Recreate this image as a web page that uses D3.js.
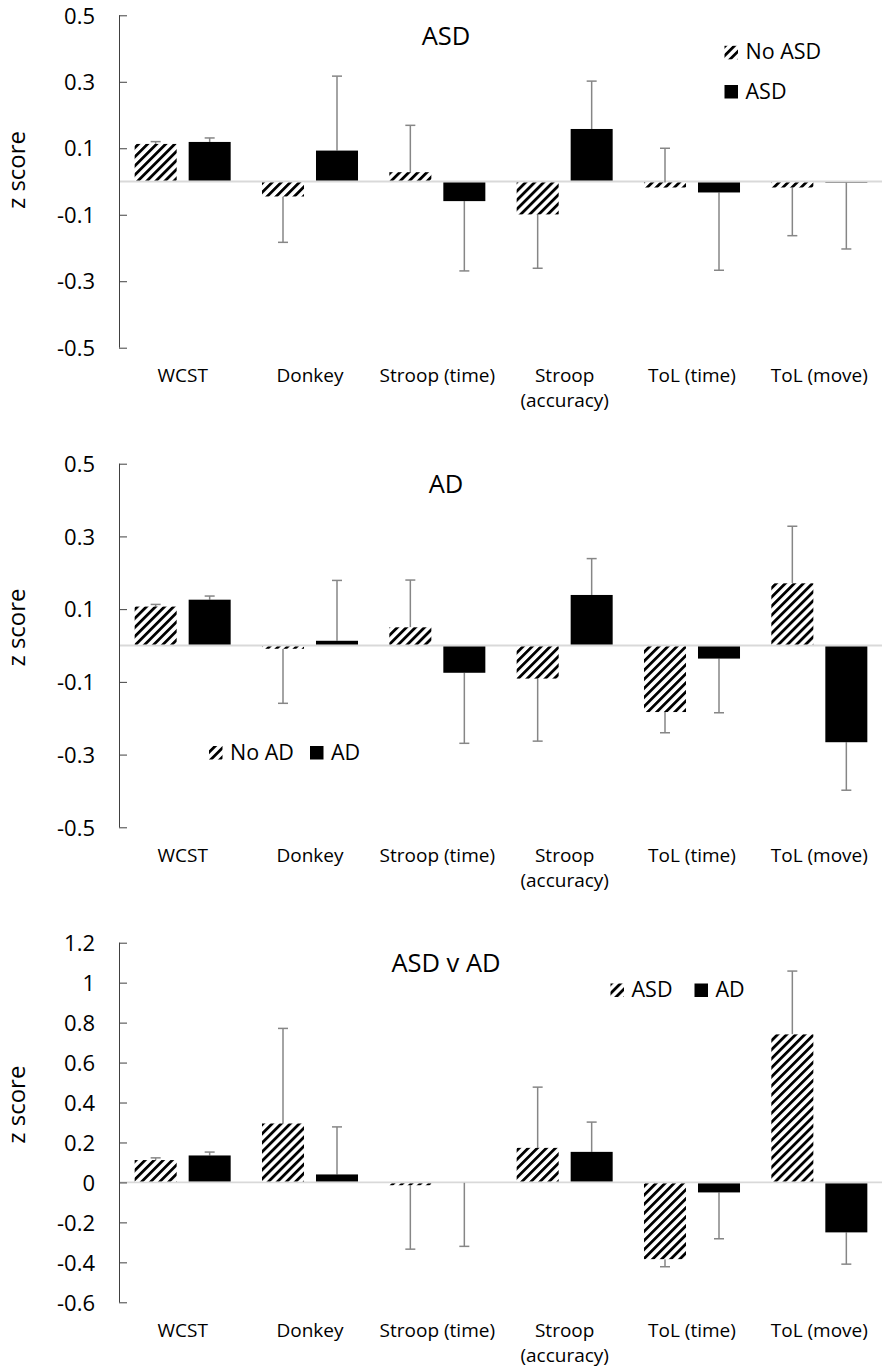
<!DOCTYPE html>
<html>
<head>
<meta charset="utf-8">
<script src="https://cdn.jsdelivr.net/npm/d3@7"></script>
<style>
  html, body { margin: 0; padding: 0; background: #fff; }
  svg { display: block; font-family: "Open Sans", "Noto Sans", sans-serif; }
</style>
</head>
<body>
<svg id="chart" width="882" height="1368"></svg>
<script>
// ---------- data ----------
const categories = ["WCST", "Donkey", "Stroop (time)", "Stroop (accuracy)", "ToL (time)", "ToL (move)"];
const categoryLines = [["WCST"], ["Donkey"], ["Stroop (time)"], ["Stroop", "(accuracy)"], ["ToL (time)"], ["ToL (move)"]];

// Panel 1: ASD
const p1Title = "ASD";
const p1SeriesNames = ["No ASD", "ASD"];
const p1NoAsdValues = [0.113, -0.045, 0.028, -0.099, -0.018, -0.018];
const p1NoAsdErrEnd = [0.120, -0.183, 0.169, -0.261, 0.100, -0.163];
const p1AsdValues   = [0.119, 0.093, -0.059, 0.158, -0.033, -0.004];
const p1AsdErrEnd   = [0.131, 0.317, -0.269, 0.302, -0.267, -0.203];
const p1Ticks = [-0.5, -0.3, -0.1, 0.1, 0.3, 0.5];
const p1TickLabels = ["-0.5", "-0.3", "-0.1", "0.1", "0.3", "0.5"];

// Panel 2: AD
const p2Title = "AD";
const p2SeriesNames = ["No AD", "AD"];
const p2NoAdValues = [0.107, -0.009, 0.050, -0.091, -0.183, 0.171];
const p2NoAdErrEnd = [0.113, -0.159, 0.180, -0.263, -0.240, 0.328];
const p2AdValues   = [0.126, 0.013, -0.075, 0.139, -0.036, -0.266];
const p2AdErrEnd   = [0.136, 0.179, -0.269, 0.239, -0.185, -0.398];
const p2Ticks = [-0.5, -0.3, -0.1, 0.1, 0.3, 0.5];
const p2TickLabels = ["-0.5", "-0.3", "-0.1", "0.1", "0.3", "0.5"];

// Panel 3: ASD v AD
const p3Title = "ASD v AD";
const p3SeriesNames = ["ASD", "AD"];
const p3AsdValues = [0.112, 0.295, -0.014, 0.173, -0.384, 0.741];
const p3AsdErrEnd = [0.123, 0.771, -0.334, 0.477, -0.422, 1.058];
const p3AdValues  = [0.135, 0.040, -0.002, 0.153, -0.050, -0.250];
const p3AdErrEnd  = [0.152, 0.278, -0.320, 0.302, -0.282, -0.409];
const p3Ticks = [-0.6, -0.4, -0.2, 0, 0.2, 0.4, 0.6, 0.8, 1, 1.2];
const p3TickLabels = ["-0.6", "-0.4", "-0.2", "0", "0.2", "0.4", "0.6", "0.8", "1", "1.2"];

const yLabel = "z score";

// ---------- drawing ----------
const svg = d3.select("#chart");
const defs = svg.append("defs");
const pat = defs.append("pattern")
  .attr("id", "hatch")
  .attr("patternUnits", "userSpaceOnUse")
  .attr("width", 6.4).attr("height", 10)
  .attr("patternTransform", "rotate(45)");
pat.append("rect").attr("width", 6.4).attr("height", 10).attr("fill", "#fff");
pat.append("rect").attr("x", 0).attr("width", 2.8).attr("height", 10).attr("fill", "#000");

const axisX = 119, plotRight = 883;
const x0 = d3.scaleBand().domain(categories).range([axisX, plotRight]).padding(0);
const x1 = d3.scaleBand().domain([0, 1]).range([0, x0.bandwidth()])
  .paddingInner(0.222).paddingOuter(0.29);

function panel(cfg) {
  const g = svg.append("g");
  const y = d3.scaleLinear().domain(cfg.domain).range([cfg.bottom, cfg.top]);

  // zero line
  g.append("line")
    .attr("x1", axisX).attr("x2", plotRight)
    .attr("y1", y(0)).attr("y2", y(0))
    .attr("stroke", "#d9d9d9").attr("stroke-width", 1.8);

  // y axis with inward ticks
  const axis = d3.axisRight(y).tickValues(cfg.ticks).tickSize(8)
    .tickFormat((d, i) => cfg.tickLabels[i]);
  const ag = g.append("g").attr("transform", `translate(${axisX},0)`).call(axis);
  ag.select(".domain").attr("stroke", "#404040").attr("stroke-width", 1)
    .attr("d", `M0.5,${y(cfg.domain[1])}V${y(cfg.domain[0])}`);
  ag.selectAll(".tick line").attr("stroke", "#404040").attr("stroke-width", 1);
  ag.selectAll(".tick text")
    .attr("x", -24).attr("dy", "0.35em")
    .attr("text-anchor", "end")
    .attr("font-size", 22).attr("fill", "#000")
    .attr("font-family", "'Open Sans', sans-serif");

  const series = [
    { vals: cfg.s0, err: cfg.e0, fill: "url(#hatch)" },
    { vals: cfg.s1, err: cfg.e1, fill: "#000" }
  ];

  series.forEach((s, si) => {
    const data = categories.map((c, i) => ({ c, v: s.vals[i], e: s.err[i] }));
    const cx = d => x0(d.c) + x1(si) + x1.bandwidth() / 2;
    // error bars
    const eg = g.append("g").attr("stroke", "#868686").attr("stroke-width", 1.5);
    eg.selectAll("line.stem").data(data).join("line").attr("class", "stem")
      .attr("x1", cx).attr("x2", cx)
      .attr("y1", d => y(d.v)).attr("y2", d => y(d.e));
    eg.selectAll("line.cap").data(data).join("line").attr("class", "cap")
      .attr("x1", d => cx(d) - 5).attr("x2", d => cx(d) + 5)
      .attr("y1", d => y(d.e)).attr("y2", d => y(d.e));
    // bars
    g.append("g").selectAll("rect").data(data).join("rect")
      .attr("x", d => x0(d.c) + x1(si))
      .attr("width", x1.bandwidth())
      .attr("y", d => d.v >= 0 ? y(d.v) : y(0) + 1)
      .attr("height", d => Math.max(0, d.v >= 0 ? y(0) - 1 - y(d.v) : y(d.v) - y(0) - 1))
      .attr("fill", s.fill);
  });

  // category labels
  const lg = g.append("g").attr("font-size", 19).attr("fill", "#000").attr("text-anchor", "middle");
  categories.forEach((c, i) => {
    const t = lg.append("text")
      .attr("x", x0(c) + x0.bandwidth() / 2)
      .attr("y", cfg.bottom + 34.4);
    categoryLines[i].forEach((ln, li) => {
      t.append("tspan").attr("x", x0(c) + x0.bandwidth() / 2)
        .attr("dy", li === 0 ? 0 : 25).text(ln);
    });
  });

  // title
  g.append("text").attr("x", 446).attr("y", cfg.titleY)
    .attr("text-anchor", "middle").attr("font-size", 25.5).attr("fill", "#000")
    .text(cfg.title);

  // y label
  g.append("text")
    .attr("transform", `translate(25,${cfg.labelY}) rotate(-90)`)
    .attr("text-anchor", "middle").attr("font-size", 24).attr("fill", "#000")
    .text(yLabel);

  // legend
  const leg = g.append("g").attr("font-size", 21.5).attr("fill", "#000");
  cfg.legend.forEach((it, i) => {
    leg.append("rect").attr("x", it.x).attr("y", it.y - 13.5)
      .attr("width", 13.5).attr("height", 13.5)
      .attr("fill", i === 0 ? "url(#hatch)" : "#000");
    leg.append("text").attr("x", it.x + 21).attr("y", it.y).text(cfg.names[i]);
  });
}

panel({
  domain: [-0.5, 0.5], top: 15.3, bottom: 347.7,
  ticks: p1Ticks, tickLabels: p1TickLabels,
  s0: p1NoAsdValues, e0: p1NoAsdErrEnd, s1: p1AsdValues, e1: p1AsdErrEnd,
  title: p1Title, titleY: 45, labelY: 170, names: p1SeriesNames,
  legend: [{ x: 724.5, y: 59.3 }, { x: 724.5, y: 98.5 }]
});
panel({
  domain: [-0.5, 0.5], top: 463.7, bottom: 827.3,
  ticks: p2Ticks, tickLabels: p2TickLabels,
  s0: p2NoAdValues, e0: p2NoAdErrEnd, s1: p2AdValues, e1: p2AdErrEnd,
  title: p2Title, titleY: 493, labelY: 627.5, names: p2SeriesNames,
  legend: [{ x: 209, y: 759.5 }, { x: 310, y: 759.5 }]
});
panel({
  domain: [-0.6, 1.2], top: 942.7, bottom: 1302.3,
  ticks: p3Ticks, tickLabels: p3TickLabels,
  s0: p3AsdValues, e0: p3AsdErrEnd, s1: p3AdValues, e1: p3AdErrEnd,
  title: p3Title, titleY: 971.7, labelY: 1104.7, names: p3SeriesNames,
  legend: [{ x: 610.5, y: 997 }, { x: 694.5, y: 997 }]
});
</script>
</body>
</html>
